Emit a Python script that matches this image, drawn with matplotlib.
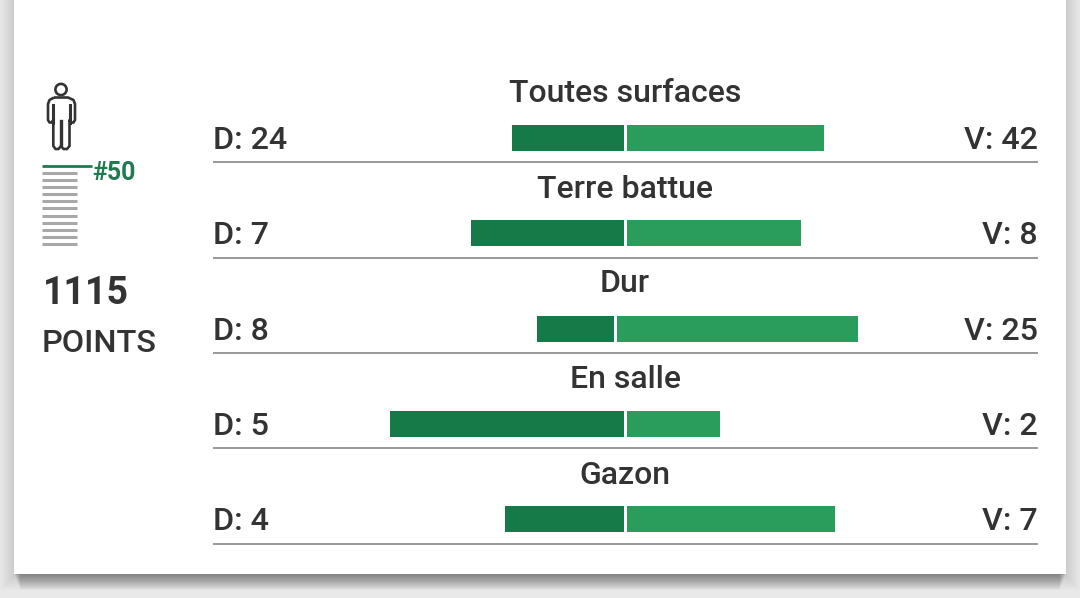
import matplotlib
matplotlib.use('Agg')
import matplotlib.pyplot as plt
from matplotlib.patches import Rectangle, Circle, PathPatch
from matplotlib.path import Path

plt.rcParams['font.family'] = ['Roboto', 'DejaVu Sans']

surfaces = ['Toutes surfaces', 'Terre battue', 'Dur', 'En salle', 'Gazon']
defeats = [24, 7, 8, 5, 4]
victories = [42, 8, 25, 2, 7]
# bar lengths and split point
defeat_len = [112, 153, 77, 234, 119]
victory_len = [197, 174, 241, 93, 208]
split = [625.5, 625, 615.5, 625, 625]
bar_y = [138, 233, 329, 424, 519]
title_y = [91, 186, 281, 377, 472]
rule_y = [162, 258, 353, 448, 544]
rank_label = '#50'
points = '1115'
points_label = 'POINTS'
ladder_y = [173, 180, 187, 194, 201, 208, 216, 223, 230, 237, 244]

dark = '#167a48'
light = '#2a9d5c'
ink = '#333333'

fig = plt.figure(figsize=(10.8, 5.98), dpi=100, facecolor='#e9e9e9')
ax = fig.add_axes([0, 0, 1, 1])
ax.set_xlim(0, 1080)
ax.set_ylim(598, 0)
ax.axis('off')

# card shadow, stacked soft layers
for g in range(1, 15):
    ax.add_patch(Rectangle((14 - g, -20), 1052 + 2 * g, 594 + g + 2, fc='black', ec='none', alpha=0.009, zorder=1))
for g in range(1, 17):
    ax.add_patch(Rectangle((14 + g * 0.4, -20), 1052 - g * 0.8, 594 + g, fc='black', ec='none', alpha=0.024, zorder=1))
ax.add_patch(Rectangle((14, -20), 1052, 594, fc='white', ec='none', zorder=2))

ax.barh(bar_y, [-d for d in defeat_len], left=[s - 1.5 for s in split], height=26, color=dark, zorder=3)
ax.barh(bar_y, victory_len, left=[s + 1.5 for s in split], height=26, color=light, zorder=3)

for i, name in enumerate(surfaces):
    ax.text(625, title_y[i] + 3, name, ha='center', va='center', fontsize=23, color=ink, fontweight='medium', zorder=4)
    ax.text(213, bar_y[i] + 2.5, 'D: %d' % defeats[i], ha='left', va='center', fontsize=23.2, color=ink, fontweight='medium', zorder=4)
    ax.text(1038, bar_y[i] + 2.5, 'V: %d' % victories[i], ha='right', va='center', fontsize=23.2, color=ink, fontweight='medium', zorder=4)
    ax.plot([213, 1038], [rule_y[i], rule_y[i]], color='#999999', lw=1.4, zorder=3, solid_capstyle='butt')

# ranking ladder
ax.hlines(ladder_y, 42, 77, color='#a8a8a8', lw=2.2, zorder=3)
ax.plot([42, 91.5], [165.5, 165.5], color='#1f7a4d', lw=2, zorder=3, solid_capstyle='butt')
ax.text(92.5, 172.5, rank_label, ha='left', va='center', fontsize=18, color='#1f7a4d', fontweight='bold', zorder=4)

# little man icon
ax.add_patch(Circle((61, 89.5), 5.6, fc='white', ec=ink, lw=1.9, zorder=4))
verts = [(54, 97.5), (68, 97.5), (73.5, 100), (75, 104), (75, 120), (73.5, 122.5), (71, 122.5),
         (69.5, 120), (69.5, 146), (67, 149), (63.5, 149), (61, 146), (58.5, 149), (55.5, 149),
         (53.3, 146), (53.3, 120), (51.5, 122.5), (49.5, 122.5), (48, 120), (48, 104), (49.5, 100), (54, 97.5)]
ax.add_patch(PathPatch(Path(verts), fc='white', ec=ink, lw=1.9, joinstyle='round', zorder=4))
ax.plot([53.3, 53.3], [105, 123], color=ink, lw=2.2, zorder=5)
ax.plot([69.5, 69.5], [105, 123], color=ink, lw=2.2, zorder=5)
ax.plot([61, 61], [121, 144], color=ink, lw=2.4, zorder=5)

ax.text(43, 293, points, ha='left', va='center', fontsize=27, color=ink, fontweight='semibold', zorder=4)
ax.text(42, 344, points_label, ha='left', va='center', fontsize=23.4, color=ink, fontweight='medium', zorder=4)

fig.savefig('out.png', dpi=100, facecolor=fig.get_facecolor())
